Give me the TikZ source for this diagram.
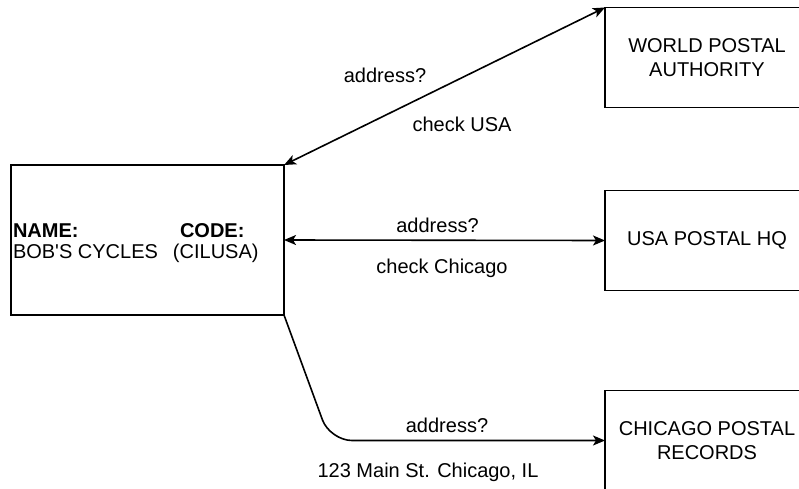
\documentclass[tikz,border=0pt]{standalone}
\usepackage{fontspec}
\setmainfont{Liberation Sans}[Ligatures=TeXOff]
\usetikzlibrary{arrows.meta}
\tikzset{
  txt/.style={font=\fontsize{20}{23.5}\selectfont, inner sep=0pt, outer sep=0pt},
  boxnode/.style={txt, draw=black, line width=1.6pt, align=center,
    minimum width=204pt, minimum height=100pt},
  tip/.tip={Stealth[length=12pt,width=10pt,inset=3pt]},
  conn/.style={line width=1.6pt, draw=black, -tip},
  twoway/.style={conn, tip-tip},
}
\begin{document}
\begin{tikzpicture}[x=1pt,y=-1pt]
\useasboundingbox (0,0) rectangle (799,489);
\clip (0,0) rectangle (799,489);
% nodes
\node[boxnode, minimum width=273pt, minimum height=150pt] (bob) at (147.5,240) {};
\node[boxnode] (wpa) at (707,57.5) {WORLD POSTAL\\AUTHORITY};
\node[boxnode] (usa) at (707,240.5) {USA POSTAL HQ};
\node[boxnode] (chi) at (707,440.5) {CHICAGO POSTAL\\RECORDS};
% text inside the left box
\node[txt, anchor=base west] (bobl1) at (13,237) {\makebox[167pt][l]{\textbf{NAME:}}\textbf{CODE:}};
\node[txt, anchor=base west] (bobl2) at (13,258) {\makebox[160pt][l]{BOB'S CYCLES}(CILUSA)};
% connectors
\draw[twoway] (bob.north east) -- (wpa.north west);
\draw[twoway] (bob.east) -- (usa.west);
\coordinate (bend) at (330,440.5);
\draw[conn, rounded corners=22pt] (bob.south east) -- (bend) -- (chi.west);
% labels
\node[txt, anchor=base] (l1a) at (385,83) {address?};
\node[txt, anchor=base] (l1b) at (462,132) {check USA};
\node[txt, anchor=base] (l2a) at (437.5,232) {address?};
\node[txt, anchor=base] (l2b) at (442,273) {check Chicago};
\node[txt, anchor=base] (l3a) at (447,432) {address?};
\node[txt, anchor=base] (l3b) at (428,477) {123 Main St. Chicago, IL};
\end{tikzpicture}
\end{document}
